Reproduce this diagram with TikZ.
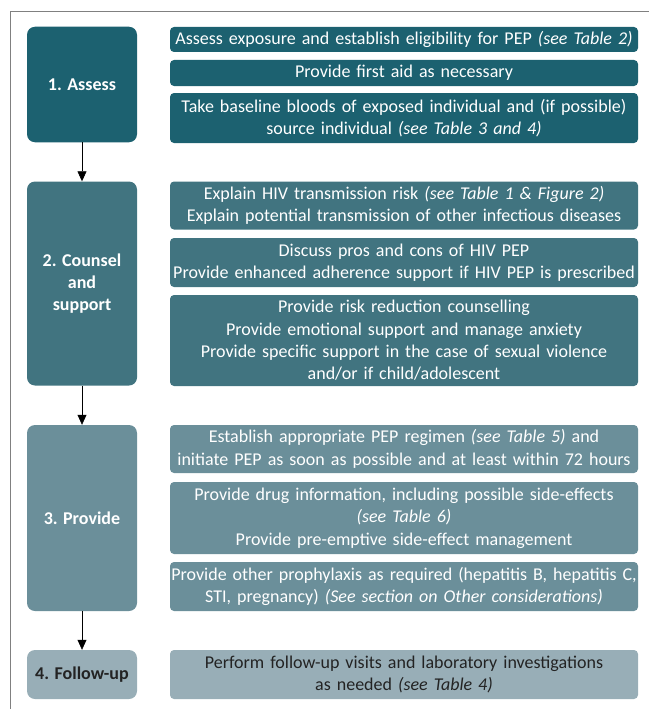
\documentclass[tikz,border=0pt]{standalone}
\usepackage{fontspec}
\setmainfont{Carlito}
\usepackage{xcolor}
\usepackage{tikz}
\usetikzlibrary{arrows.meta, positioning}
\definecolor{stepone}{RGB}{28,97,112}
\definecolor{steptwo}{RGB}{65,116,128}
\definecolor{stepthree}{RGB}{107,143,154}
\definecolor{stepfour}{RGB}{152,174,183}
\definecolor{darktext}{RGB}{35,35,35}
\definecolor{framegray}{RGB}{128,128,128}

\begin{document}
\begin{tikzpicture}[
    x=1pt, y=1pt,
    >={Triangle[length=10pt, width=9pt]},
    stepbox/.style={rounded corners=8pt, minimum width=110pt, inner sep=0pt, align=center, text=white, font=\fontsize{18}{22}\selectfont\bfseries},
    taskbox/.style={rounded corners=4pt, minimum width=468pt, text width=468pt, inner sep=0pt, align=center, text=white, font=\fontsize{18}{22.4}\selectfont},
]
    \useasboundingbox (0,0) rectangle (649,-709);
    \draw[framegray, line width=1pt] (10,-709) -- (10,-12) -- (649,-12);

    % 1. Assess
    \node[stepbox, fill=stepone, minimum height=115.5pt] (assess) at (82,-84.5) {1. Assess};
    \node[taskbox, fill=stepone, minimum height=25pt] (assessA) at (404,-39.5) {
        Assess exposure and establish eligibility for PEP \textit{(see Table 2)}
    };
    \node[taskbox, fill=stepone, minimum height=26pt] (assessB) at (404,-73) {
        Provide first aid as necessary
    };
    \node[taskbox, fill=stepone, minimum height=50pt] (assessC) at (404,-118) {
        Take baseline bloods of exposed individual and (if possible)\\
        source individual \textit{(see Table 3 and 4)}
    };

    % 2. Counsel and support
    \node[stepbox, fill=steptwo, minimum height=204pt] (counsel) at (82,-283.5) {2. Counsel\\and\\support};
    \node[taskbox, fill=steptwo, minimum height=48pt] (counselA) at (404,-205.5) {
        Explain HIV transmission risk \textit{(see Table 1 \& Figure 2)}\\
        Explain potential transmission of other infectious diseases
    };
    \node[taskbox, fill=steptwo, minimum height=49pt] (counselB) at (404,-262.5) {
        Discuss pros and cons of HIV PEP\\
        Provide enhanced adherence support if HIV PEP is prescribed
    };
    \node[taskbox, fill=steptwo, minimum height=91pt] (counselC) at (404,-340.5) {
        Provide risk reduction counselling\\
        Provide emotional support and manage anxiety\\
        Provide specific support in the case of sexual violence\\
        and/or if child/adolescent
    };

    % 3. Provide
    \node[stepbox, fill=stepthree, minimum height=186pt] (provide) at (82,-518) {3. Provide};
    \node[taskbox, fill=stepthree, minimum height=48pt] (provideA) at (404,-449) {
        Establish appropriate PEP regimen \textit{(see Table 5)} and\\
        initiate PEP as soon as possible and at least within 72 hours
    };
    \node[taskbox, fill=stepthree, minimum height=72pt] (provideB) at (404,-518) {
        Provide drug information, including possible side-effects\\
        \textit{(see Table 6)}\\
        Provide pre-emptive side-effect management
    };
    \node[taskbox, fill=stepthree, minimum height=49pt] (provideC) at (404,-586.5) {
        Provide other prophylaxis as required (hepatitis B, hepatitis C,\\
        STI, pregnancy) \textit{(See section on Other considerations)}
    };

    % 4. Follow-up
    \node[stepbox, fill=stepfour, text=darktext, minimum height=49pt] (followup) at (82,-674.5) {4. Follow-up};
    \node[taskbox, fill=stepfour, text=darktext, minimum height=49pt] (followupA) at (404,-674.5) {
        Perform follow-up visits and laboratory investigations\\
        as needed \textit{(see Table 4)}
    };

    \draw[->, semithick] (assess) -- (counsel);
    \draw[->, semithick] (counsel) -- (provide);
    \draw[->, semithick] (provide) -- (followup);
\end{tikzpicture}
\end{document}
